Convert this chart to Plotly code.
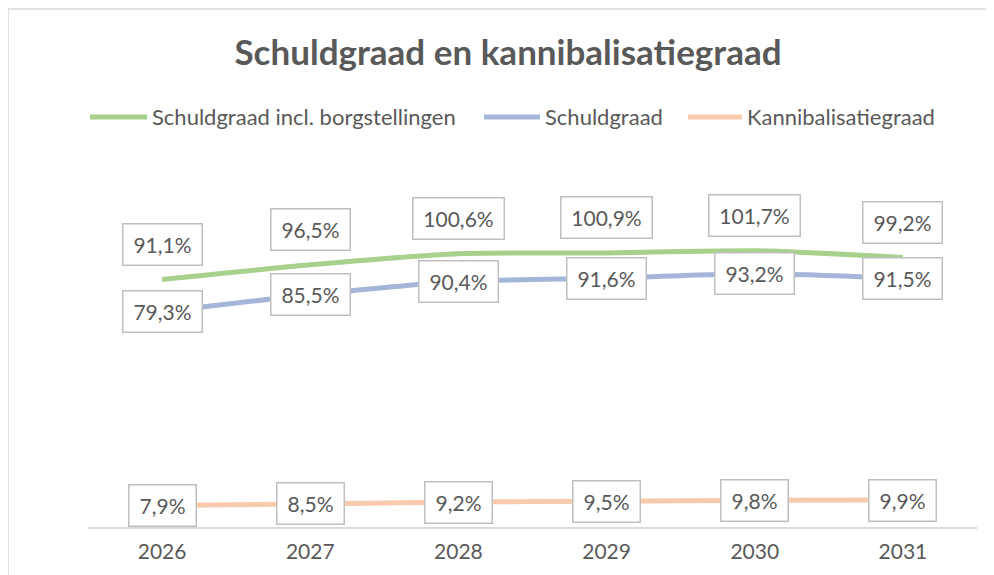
import plotly.graph_objects as go

years = ["2026", "2027", "2028", "2029", "2030", "2031"]
schuld_incl = [91.1, 96.5, 100.6, 100.9, 101.7, 99.2]
schuld = [79.3, 85.5, 90.4, 91.6, 93.2, 91.5]
kanni = [7.9, 8.5, 9.2, 9.5, 9.8, 9.9]

names = ["Schuldgraad incl. borgstellingen", "Schuldgraad", "Kannibalisatiegraad"]
colors = ["#A9D18E", "#A5B5D8", "#F8CBAD"]
label_shift = [35, 0, 0]
# legend sample positions (reference px): start, end of line, text start
legend_pos = [(90, 147, 150), (484, 540, 543), (688, 742, 745)]

FONT = "Lato, Open Sans, sans-serif"
TXT = "#595959"
L, W = 88, 889          # plot-area left edge / width in reference pixels
B, H = 527, 326         # plot-area bottom / height in reference pixels

def px(xr):
    return (xr - L) / W

def py(yr):
    return (B - yr) / H

fig = go.Figure()
annotations = []
shapes = []
for name, vals, color, shift, (l0, l1, t0) in zip(names, [schuld_incl, schuld, kanni],
                                                   colors, label_shift, legend_pos):
    fig.add_trace(go.Scatter(
        x=years, y=vals, name=name, mode="lines", showlegend=False,
        line=dict(color=color, width=5, shape="spline", smoothing=0.6),
        hoverinfo="skip",
    ))
    for i, yv in enumerate(vals):
        label = f"{yv:.1f}".replace(".", ",") + "%"
        annotations.append(dict(
            x=i, y=yv, xref="x", yref="y", text=label, showarrow=False,
            yshift=shift, font=dict(family=FONT, size=21, color=TXT),
            bgcolor="white", bordercolor="#BFBFBF", borderwidth=1.5, borderpad=5,
            width=12 * len(label) + 8, height=30,
        ))
    # legend entry
    shapes.append(dict(type="line", xref="paper", yref="paper",
                       x0=px(l0), x1=px(l1), y0=py(117), y1=py(117),
                       line=dict(color=color, width=5)))
    annotations.append(dict(x=px(t0), y=py(117), xref="paper", yref="paper", text=name,
                            showarrow=False, xanchor="left", yanchor="middle",
                            font=dict(family=FONT, size=22, color=TXT)))

shapes.append(dict(type="rect", xref="paper", yref="paper",
                   x0=px(8), x1=px(1010), y0=py(590), y1=py(9),
                   line=dict(color="#D9D9D9", width=1.5), fillcolor="rgba(0,0,0,0)", layer="below"))

fig.update_layout(
    width=994, height=575,
    margin=dict(l=80, r=25, t=193, b=56),
    paper_bgcolor="white", plot_bgcolor="white",
    showlegend=False,
    title=dict(text="<b>Schuldgraad en kannibalisatiegraad</b>", x=(508 - 8) / 994, xanchor="center",
               y=1 - (53 - 8) / 575, yanchor="middle",
               font=dict(family=FONT, size=35, color=TXT)),
    xaxis=dict(type="category", showgrid=False, showline=True, linecolor="#D9D9D9", linewidth=1.5,
               ticks="", ticklabelstandoff=5,
               tickfont=dict(family=FONT, size=21, color=TXT), range=[-0.5, 5.5]),
    yaxis=dict(range=[0, 120], showgrid=False, showticklabels=False, zeroline=False, showline=False),
    annotations=annotations,
    shapes=shapes,
)

fig.write_html("out.html")
